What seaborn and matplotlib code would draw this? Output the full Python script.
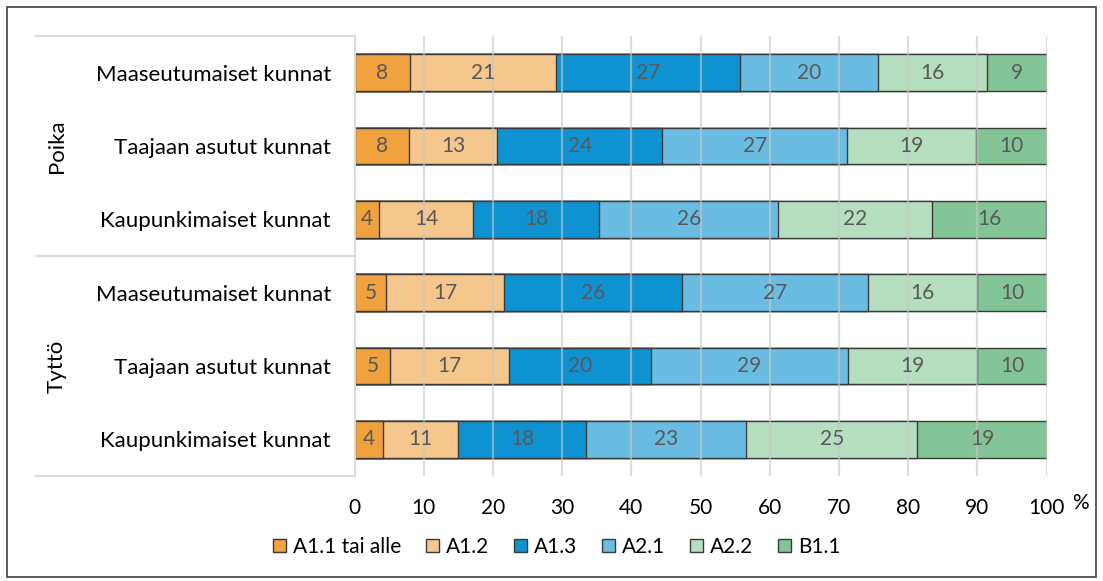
import matplotlib
matplotlib.use("Agg")
import matplotlib.pyplot as plt
import seaborn as sns
import pandas as pd
import numpy as np
from matplotlib.lines import Line2D
from matplotlib.patches import Patch, Rectangle

# Proficiency level shares (%) by gender and municipality type
groups = ["Poika", "Tyttö"]
areas = ["Maaseutumaiset kunnat", "Taajaan asutut kunnat", "Kaupunkimaiset kunnat"]
levels = ["A1.1 tai alle", "A1.2", "A1.3", "A2.1", "A2.2", "B1.1"]

a11 = [7.98, 7.88, 3.6, 4.6, 5.18, 4.17]
a12 = [21.14, 12.71, 13.55, 17.05, 17.19, 10.79]
a13 = [26.63, 23.89, 18.2, 25.72, 20.43, 18.45]
a21 = [19.85, 26.65, 25.9, 26.88, 28.56, 23.12]
a22 = [15.76, 18.64, 22.25, 15.71, 18.6, 24.8]
b11 = [8.64, 10.23, 16.45, 10.04, 10.04, 18.67]

colors = ["#EFA23D", "#F5C78D", "#0E92D1", "#6ABCE3", "#B6DEC1", "#84C597"]
x_ticks = list(range(0, 101, 10))

series = [a11, a12, a13, a21, a22, b11]
row_keys = [f"{g}|{a}" for g in groups for a in areas]
row_labels = [a for g in groups for a in areas]

df = pd.DataFrame({lv: vals for lv, vals in zip(levels, series)}, index=row_keys)
cum = df.cumsum(axis=1)

plt.rcParams["font.family"] = ["Lato", "DejaVu Sans"]
FS = 15

fig = plt.figure(figsize=(11.03, 5.81), dpi=100)
ax = fig.add_axes([354.5 / 1103, 1 - 476 / 581, 692.2 / 1103, 440 / 581])

# Stacked bars: draw cumulative totals from the outermost layer inward
for lv, col in reversed(list(zip(levels, colors))):
    sns.barplot(x=cum[lv].values, y=row_keys, order=row_keys, orient="h",
                color=col, width=0.5, edgecolor="#3A3A3A", linewidth=1.0,
                saturation=1, ax=ax, zorder=2)

# Segment value labels
for i, key in enumerate(row_keys):
    left = 0.0
    for lv in levels:
        v = df.loc[key, lv]
        ax.text(left + v / 2, i, f"{v:.0f}", ha="center", va="center",
                fontsize=FS, color="#595959", zorder=5)
        left += v

ax.set_xlim(0, 100)
ax.set_ylim(5.5, -0.5)
ax.set_xticks(x_ticks)
ax.set_xticklabels([str(t) for t in x_ticks], fontsize=FS)
ax.set_yticks(range(len(row_keys)))
ax.set_yticklabels(row_labels, fontsize=16)
ax.tick_params(axis="both", length=0)
ax.tick_params(axis="y", pad=17)
ax.tick_params(axis="x", pad=15.5)
ax.set_xlabel("")
ax.set_ylabel("")

# Vertical gridlines drawn over the bars
for t in x_ticks[1:]:
    ax.axvline(t, color="#C8C8C8", lw=1.6, alpha=0.6, zorder=4)

for s in ["top", "right", "bottom"]:
    ax.spines[s].set_visible(False)
ax.spines["left"].set_color("#D9D9D9")
ax.spines["left"].set_linewidth(1.5)
ax.set_facecolor("white")

# Group separators of the two-level category axis
for ypx in [36, 256, 476]:
    fig.add_artist(Line2D([36 / 1103, 354 / 1103], [1 - ypx / 581, 1 - ypx / 581],
                          color="#D9D9D9", lw=1.5))
fig.text(57 / 1103, 1 - 146 / 581, "Poika", rotation=90, ha="center", va="center", fontsize=16)
fig.text(57 / 1103, 1 - 366 / 581, "Tyttö", rotation=90, ha="center", va="center", fontsize=16)

fig.text(1080 / 1103, 1 - 503 / 581, "%", ha="center", va="center", fontsize=FS)

handles = [Patch(facecolor=c, edgecolor="#3A3A3A", linewidth=1.0) for c in colors]
fig.legend(handles, levels, loc="center", bbox_to_anchor=(557 / 1103, 1 - 547 / 581),
           ncol=6, frameon=False, fontsize=FS, handlelength=0.6, handleheight=0.6,
           handletextpad=0.35, columnspacing=1.2)

# Outer chart border
fig.add_artist(Rectangle((7 / 1103, 4 / 581), 1089 / 1103, 570 / 581,
                         transform=fig.transFigure, fill=False,
                         edgecolor="#404040", lw=1.2))

fig.savefig("out.png", dpi=100)
